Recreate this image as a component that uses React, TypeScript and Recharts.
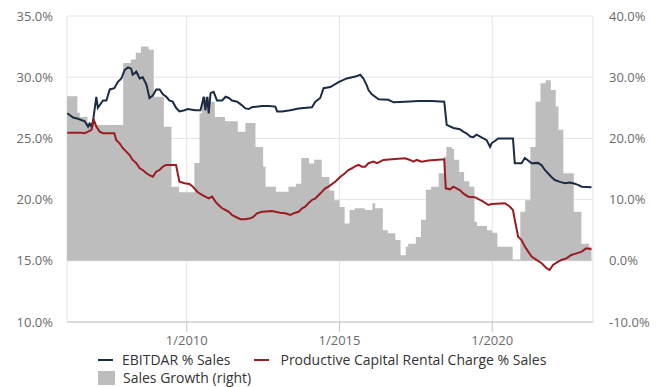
import { ComposedChart, Area, Line, XAxis, YAxis, CartesianGrid } from "recharts"

// [decimal year, %]
const salesGrowth: [number, number][] = [
  [2006.08, 26.9], [2006.42, 24.2], [2006.5, 23.5], [2006.75, 22.6], [2007.0, 22.2],
  [2007.92, 32.3], [2008.17, 32.9], [2008.33, 34.0], [2008.5, 35.0], [2008.75, 34.5],
  [2008.92, 26.8], [2009.25, 21.9], [2009.5, 12.1], [2009.75, 11.2], [2010.25, 16.0],
  [2010.42, 24.1], [2010.5, 26.8], [2010.75, 26.0], [2010.92, 23.5], [2011.25, 22.8],
  [2011.67, 21.1], [2011.92, 22.5], [2012.25, 18.6], [2012.5, 15.4], [2012.58, 12.1],
  [2012.92, 11.3], [2013.33, 12.1], [2013.58, 12.6], [2013.75, 16.8], [2014.0, 15.9],
  [2014.17, 16.5], [2014.42, 13.7], [2014.67, 11.5], [2014.83, 9.9], [2015.0, 8.8],
  [2015.17, 6.1], [2015.33, 8.3], [2015.5, 8.6], [2015.83, 8.3], [2016.08, 9.4],
  [2016.17, 8.6], [2016.42, 5.0], [2016.58, 4.5], [2016.83, 3.4], [2017.0, 0.9],
  [2017.17, 2.3], [2017.25, 2.8], [2017.5, 3.9], [2017.67, 6.7], [2017.83, 11.6],
  [2018.0, 12.1], [2018.25, 14.3], [2018.42, 17.0], [2018.5, 18.6], [2018.67, 18.3],
  [2018.75, 16.5], [2018.92, 14.5], [2019.08, 13.0], [2019.25, 12.1], [2019.42, 6.4],
  [2019.5, 5.7], [2019.83, 5.0], [2020.0, 4.6], [2020.17, 2.3], [2020.67, 0.2],
  [2020.92, 8.0], [2021.08, 9.9], [2021.25, 18.6], [2021.42, 26.0], [2021.58, 29.0],
  [2021.75, 29.5], [2021.92, 27.9], [2022.08, 25.2], [2022.17, 21.4], [2022.33, 14.3],
  [2022.67, 8.0], [2022.92, 2.8], [2023.17, 2.3], [2023.25, 2.3],
]

const ebitdar: [number, number][] = [
  [2006.09, 27.05], [2006.28, 26.7], [2006.44, 26.6], [2006.66, 26.4], [2006.77, 25.96],
  [2006.82, 26.2], [2006.88, 25.96], [2006.93, 26.4], [2007.04, 28.4], [2007.09, 27.5],
  [2007.26, 28.1], [2007.37, 28.1], [2007.48, 29.0], [2007.63, 29.1], [2007.74, 29.6],
  [2007.86, 29.9], [2007.97, 30.6], [2008.08, 30.8], [2008.18, 30.7], [2008.23, 30.2],
  [2008.35, 30.45], [2008.46, 29.9], [2008.56, 30.0], [2008.68, 29.4], [2008.78, 28.3],
  [2008.89, 28.5], [2009.0, 29.0], [2009.11, 29.0], [2009.22, 28.6], [2009.33, 28.4],
  [2009.43, 28.1], [2009.54, 28.0], [2009.65, 27.5], [2009.76, 27.2], [2009.93, 27.3],
  [2010.03, 27.4], [2010.28, 27.3], [2010.45, 27.3], [2010.56, 28.4], [2010.61, 27.3],
  [2010.67, 28.4], [2010.72, 27.05], [2010.78, 28.7], [2010.88, 28.8], [2010.99, 28.1],
  [2011.16, 28.1], [2011.27, 28.4], [2011.38, 28.3], [2011.48, 28.1], [2011.65, 28.0],
  [2011.81, 27.7], [2011.92, 27.45], [2012.03, 27.4], [2012.13, 27.55], [2012.47, 27.65],
  [2012.68, 27.65], [2012.9, 27.6], [2012.96, 27.2], [2013.12, 27.2], [2013.39, 27.3],
  [2013.66, 27.45], [2014.1, 27.55], [2014.21, 28.0], [2014.37, 28.3], [2014.48, 29.1],
  [2014.7, 29.2], [2014.97, 29.6], [2015.24, 29.9], [2015.52, 30.05], [2015.68, 30.2],
  [2015.78, 29.9], [2015.89, 29.35], [2015.95, 28.95], [2016.06, 28.6], [2016.28, 28.2],
  [2016.6, 28.15], [2016.77, 27.95], [2017.15, 28.0], [2017.58, 28.05], [2018.02, 28.05],
  [2018.43, 28.0], [2018.51, 26.1], [2018.73, 25.85], [2018.94, 25.75], [2019.05, 25.55],
  [2019.17, 25.4], [2019.28, 25.15], [2019.38, 25.1], [2019.49, 25.3], [2019.71, 25.0],
  [2019.82, 24.85], [2019.93, 24.3], [2019.98, 24.6], [2020.2, 25.0], [2020.68, 25.0],
  [2020.74, 22.97], [2020.96, 22.97], [2021.07, 23.4], [2021.29, 22.97], [2021.5, 23.0],
  [2021.62, 22.8], [2021.73, 22.4], [2021.94, 21.85], [2022.05, 21.6], [2022.22, 21.45],
  [2022.38, 21.33], [2022.54, 21.4], [2022.65, 21.33], [2022.81, 21.2], [2022.93, 21.05],
  [2023.25, 21.0],
]

const rentalCharge: [number, number][] = [
  [2006.09, 25.47], [2006.55, 25.47], [2006.66, 25.42], [2006.77, 25.55], [2006.88, 25.7],
  [2006.96, 26.5], [2007.04, 25.96], [2007.15, 25.55], [2007.26, 25.42], [2007.63, 25.42],
  [2007.69, 24.87], [2007.8, 24.6], [2007.91, 24.2], [2008.02, 23.92], [2008.13, 23.64],
  [2008.23, 23.24], [2008.35, 22.97], [2008.46, 22.56], [2008.56, 22.42], [2008.68, 22.15],
  [2008.78, 22.0], [2008.89, 21.87], [2009.0, 22.28], [2009.11, 22.42], [2009.22, 22.7],
  [2009.33, 22.83], [2009.65, 22.83], [2009.76, 21.46], [2009.93, 21.33], [2010.09, 21.27],
  [2010.2, 21.06], [2010.36, 20.6], [2010.5, 20.38], [2010.61, 20.24], [2010.72, 20.1],
  [2010.83, 20.24], [2010.94, 19.83], [2011.04, 19.56], [2011.16, 19.29], [2011.27, 19.15],
  [2011.38, 19.0], [2011.48, 18.74], [2011.59, 18.6], [2011.76, 18.4], [2011.92, 18.4],
  [2012.08, 18.47], [2012.19, 18.6], [2012.3, 18.88], [2012.47, 19.0], [2012.79, 19.07],
  [2013.06, 18.93], [2013.23, 18.88], [2013.39, 18.74], [2013.55, 18.93], [2013.66, 19.0],
  [2013.78, 19.29], [2013.88, 19.42], [2013.98, 19.7], [2014.1, 19.97], [2014.21, 20.1],
  [2014.32, 20.38], [2014.43, 20.65], [2014.53, 20.92], [2014.64, 21.06], [2014.86, 21.46],
  [2015.03, 21.87], [2015.18, 22.15], [2015.29, 22.42], [2015.41, 22.56], [2015.52, 22.74],
  [2015.63, 22.83], [2015.73, 22.69], [2015.84, 22.69], [2015.95, 22.97], [2016.11, 23.1],
  [2016.23, 22.97], [2016.33, 23.1], [2016.44, 23.24], [2016.71, 23.3], [2017.15, 23.38],
  [2017.31, 23.24], [2017.42, 23.1], [2017.53, 23.24], [2017.69, 23.1], [2017.91, 23.19],
  [2018.13, 23.24], [2018.43, 23.3], [2018.48, 20.92], [2018.62, 20.84], [2018.73, 21.06],
  [2018.89, 20.84], [2018.94, 20.78], [2019.05, 20.51], [2019.22, 20.24], [2019.43, 20.2],
  [2019.6, 19.97], [2019.71, 19.83], [2019.87, 19.56], [2019.98, 19.64], [2020.42, 19.7],
  [2020.58, 19.42], [2020.68, 19.15], [2020.74, 18.33], [2020.85, 16.97], [2020.96, 16.7],
  [2021.07, 16.16], [2021.18, 15.75], [2021.29, 15.34], [2021.45, 15.07], [2021.62, 14.8],
  [2021.78, 14.39], [2021.88, 14.25], [2021.99, 14.66], [2022.16, 14.93], [2022.27, 15.07],
  [2022.43, 15.2], [2022.59, 15.48], [2022.76, 15.61], [2022.93, 15.75], [2023.08, 16.02],
  [2023.25, 15.94],
]

const leftTicks = [10, 15, 20, 25, 30, 35]
const rightTicks = [-10, 0, 10, 20, 30, 40]
const yearTicks = [2010, 2015, 2020]

const rows = (pts: [number, number][]) => pts.map(([t, v]) => ({ t, v }))

const NAVY = "#1c2b44"
const RED = "#9b1c20"
const GREY = "#bdbdbd"
const tickStyle = { fill: "#6b6b6b", fontSize: 13, fontFamily: "'Open Sans', sans-serif" }
const pct = (v: number) => `${v.toFixed(1)}%`

export default function App() {
  return (
    <div style={{ position: "relative", width: 657, height: 387, background: "#fff", overflow: "hidden" }}>
      <style>{"body{margin:0}"}</style>
      <ComposedChart width={657} height={387} margin={{ top: 16, right: 0, bottom: 35, left: 0 }}>
        <CartesianGrid yAxisId="left" stroke="#e4e4e4" ticks={leftTicks} />
        <XAxis
          dataKey="t"
          type="number"
          domain={[2006.08, 2023.3]}
          ticks={yearTicks}
          allowDataOverflow
          tickFormatter={(v) => `1/${v}`}
          tick={tickStyle}
          tickSize={10}
          tickMargin={4}
          height={30}
          stroke="#c4c4c4"
        />
        <YAxis
          yAxisId="left"
          domain={[10, 35]}
          ticks={leftTicks}
          tickFormatter={pct}
          tick={tickStyle}
          axisLine={false}
          tickLine={false}
          tickMargin={8}
          width={67}
        />
        <YAxis
          yAxisId="right"
          orientation="right"
          domain={[-10, 40]}
          ticks={rightTicks}
          tickFormatter={pct}
          tick={tickStyle}
          axisLine={false}
          tickLine={false}
          tickMargin={10}
          width={64}
        />
        <Area
          yAxisId="right"
          data={rows(salesGrowth)}
          dataKey="v"
          type="stepAfter"
          stroke="none"
          fill={GREY}
          fillOpacity={1}
          isAnimationActive={false}
        />
        <Line
          yAxisId="left"
          data={rows(ebitdar)}
          dataKey="v"
          type="linear"
          stroke={NAVY}
          strokeWidth={2}
          dot={false}
          isAnimationActive={false}
        />
        <Line
          yAxisId="left"
          data={rows(rentalCharge)}
          dataKey="v"
          type="linear"
          stroke={RED}
          strokeWidth={2}
          dot={false}
          isAnimationActive={false}
        />
      </ComposedChart>
      <div
        style={{
          position: "absolute",
          left: 98,
          top: 351,
          fontFamily: "'Open Sans', sans-serif",
          fontSize: 14,
          color: "#333",
          lineHeight: "18px",
        }}
      >
        <div style={{ display: "flex", alignItems: "center" }}>
          <span style={{ width: 15, height: 2, background: NAVY, marginRight: 9 }} />
          <span>EBITDAR % Sales</span>
          <span style={{ width: 15, height: 2, background: RED, marginLeft: 24, marginRight: 11 }} />
          <span>Productive Capital Rental Charge % Sales</span>
        </div>
        <div style={{ display: "flex", alignItems: "center" }}>
          <span style={{ width: 17, height: 14, background: GREY, marginRight: 8 }} />
          <span>Sales Growth (right)</span>
        </div>
      </div>
    </div>
  )
}
